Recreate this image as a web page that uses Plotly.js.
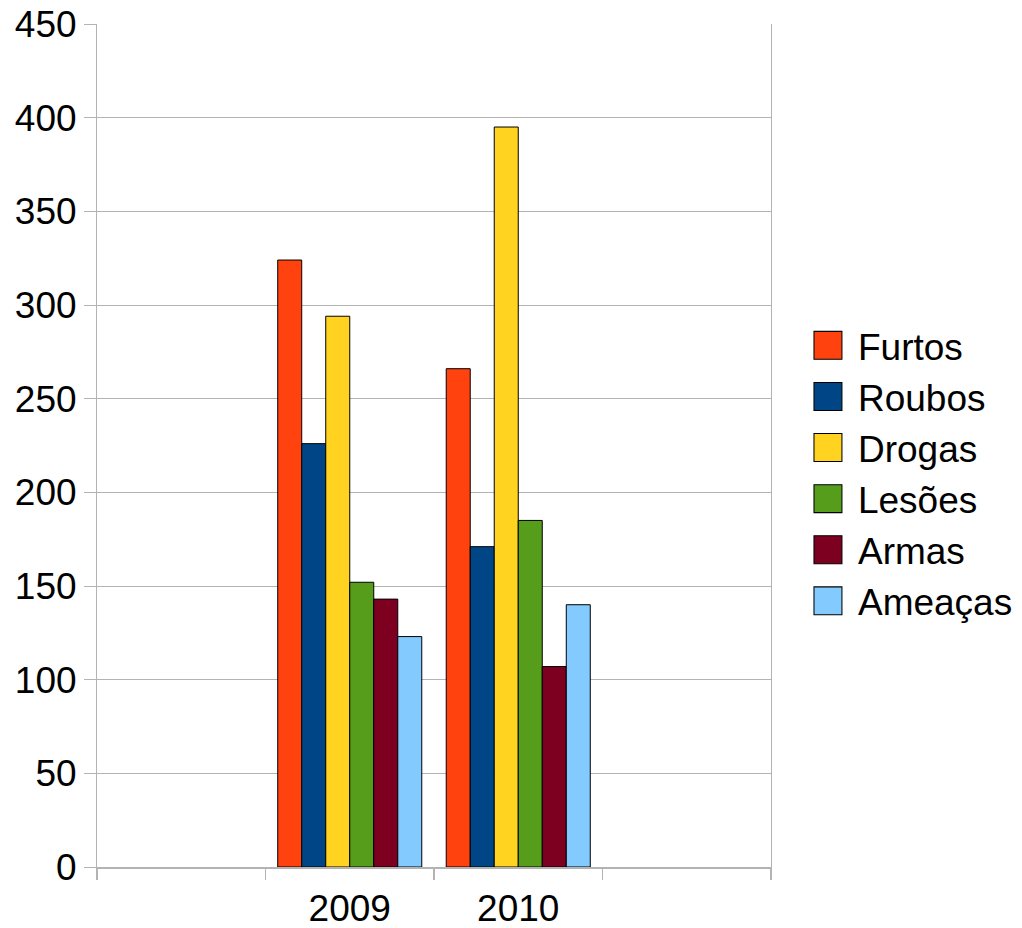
<!DOCTYPE html>
<html>
<head>
<meta charset="utf-8">
<script src="https://cdn.plot.ly/plotly-3.0.1.min.js"></script>
<style>
  html, body { margin: 0; padding: 0; background: #fff; }
  #chart { width: 1022px; height: 928px; }
</style>
</head>
<body>
<div id="chart"></div>
<script>
// Category slots (outer two are empty in the reference)
var categories = [" ", "2009", "2010", "  "];

var seriesNames = ["Furtos", "Roubos", "Drogas", "Lesões", "Armas", "Ameaças"];
var furtos  = [null, 324, 266, null];
var roubos  = [null, 226, 171, null];
var drogas  = [null, 294, 395, null];
var lesoes  = [null, 152, 185, null];
var armas   = [null, 143, 107, null];
var ameacas = [null, 123, 140, null];

var seriesValues = [furtos, roubos, drogas, lesoes, armas, ameacas];
var seriesColors = ["#ff420e", "#004586", "#ffd320", "#579d1c", "#7e0021", "#83caff"];

var FONT = "Liberation Sans, Arial, sans-serif";

var traces = seriesNames.map(function (name, i) {
  return {
    type: "bar",
    name: name,
    x: categories,
    y: seriesValues[i],
    marker: { color: seriesColors[i], line: { color: "#000000", width: 1 } },
    legendgroup: "g" + i,
    hoverinfo: "x+y+name"
  };
});

var layout = {
  width: 1022,
  height: 928,
  margin: { l: 97, r: 251, t: 24, b: 61, pad: 0, autoexpand: false },
  paper_bgcolor: "#ffffff",
  plot_bgcolor: "#ffffff",
  font: { family: FONT, size: 37, color: "#000000" },
  barmode: "group",
  bargap: 0.145,
  bargroupgap: 0,
  showlegend: true,
  legend: {
    x: 1.040, xanchor: "left", xref: "paper",
    y: 0.467, yanchor: "middle",
    font: { family: FONT, size: 37, color: "#000000" },
    itemwidth: 50,
    tracegroupgap: 7,
    bgcolor: "rgba(0,0,0,0)",
    traceorder: "normal"
  },
  xaxis: {
    type: "category",
    categoryorder: "array",
    categoryarray: categories,
    range: [-0.5, 3.5],
    tickson: "boundaries",
    ticks: "outside",
    ticklen: 11,
    tickwidth: 1.5,
    tickcolor: "#b3b3b3",
    ticklabelstandoff: 8,
    showgrid: false,
    showline: true,
    linecolor: "#b3b3b3",
    linewidth: 1.5,
    zeroline: false,
    tickfont: { family: FONT, size: 37, color: "#000000" },
    fixedrange: true
  },
  yaxis: {
    range: [0, 450],
    dtick: 50,
    tick0: 0,
    ticks: "outside",
    ticklen: 12,
    tickcolor: "#b3b3b3",
    tickwidth: 1,
    showgrid: true,
    gridcolor: "#b3b3b3",
    gridwidth: 1,
    showline: true,
    mirror: true,
    linecolor: "#b3b3b3",
    linewidth: 1,
    zeroline: false,
    tickfont: { family: FONT, size: 37, color: "#000000" },
    fixedrange: true
  }
};

Plotly.newPlot("chart", traces, layout, { displayModeBar: false, staticPlot: true }).then(function (gd) {
  // Enlarge legend swatches to match the reference's big square keys
  var pts = gd.querySelectorAll(".legend .legendpoints path");
  pts.forEach(function (p) {
    var t = p.getAttribute("transform") || "";
    p.setAttribute("transform", t + " scale(2.33)");
    p.style.strokeWidth = "0.45px";
    p.style.stroke = "#000";
  });
});
</script>
</body>
</html>
